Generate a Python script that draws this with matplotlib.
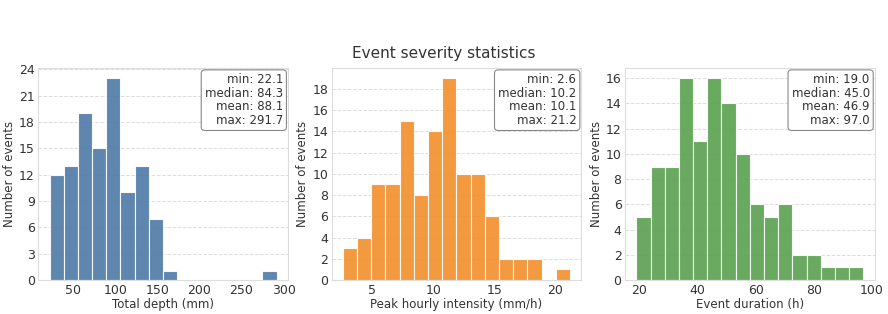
import numpy as np
import matplotlib
matplotlib.use("Agg")
import matplotlib.pyplot as plt
from matplotlib.ticker import MultipleLocator

# counts per bin (16 equal bins between min and max)
depth_counts = [12, 13, 19, 15, 23, 10, 13, 7, 1, 0, 0, 0, 0, 0, 0, 1]
intensity_counts = [3, 4, 9, 9, 15, 8, 14, 19, 10, 10, 6, 2, 2, 2, 0, 1]
duration_counts = [5, 9, 9, 16, 11, 16, 14, 10, 6, 5, 6, 2, 2, 1, 1, 1]

depth_stats = [22.1, 84.3, 88.1, 291.7]       # min, median, mean, max
intensity_stats = [2.6, 10.2, 10.1, 21.2]
duration_stats = [19.0, 45.0, 46.9, 97.0]

xlabels = ["Total depth (mm)", "Peak hourly intensity (mm/h)", "Event duration (h)"]
colors = ["#4e79a7", "#f28e2b", "#59a14f"]
ystep = [3, 2, 2]

fig, axes = plt.subplots(1, 3, figsize=(8.88, 3.14), dpi=100)
fig.subplots_adjust(left=0.043, right=0.985, top=0.783, bottom=0.108, wspace=0.175)

panels = zip(axes, [depth_counts, intensity_counts, duration_counts],
             [depth_stats, intensity_stats, duration_stats], xlabels, colors, ystep)
for ax, counts, stats, xl, col, step in panels:
    edges = np.linspace(stats[0], stats[3], len(counts) + 1)
    ax.hist(edges[:-1], bins=edges, weights=counts, color=col, alpha=0.9,
            edgecolor="white", linewidth=0.8, zorder=2)
    ax.set_xlabel(xl, fontsize=8.5, color="#333333", labelpad=1)
    ax.set_ylabel("Number of events", fontsize=8.5, color="#333333", labelpad=2)
    ax.yaxis.set_major_locator(MultipleLocator(step))
    ax.tick_params(labelsize=9, colors="#333333", length=0, pad=2.5)
    ax.grid(axis="y", linestyle="--", color="#dddddd", linewidth=0.7, zorder=0)
    ax.set_axisbelow(True)
    for s in ax.spines.values():
        s.set_color("#dddddd")
    txt = "min: %.1f\nmedian: %.1f\nmean: %.1f\nmax: %.1f" % tuple(stats)
    ax.text(0.98, 0.975, txt, transform=ax.transAxes, ha="right", va="top",
            fontsize=8.5, color="#333333", linespacing=1.05,
            bbox=dict(boxstyle="round,pad=0.3", facecolor="white", edgecolor="#888888", linewidth=0.8))

fig.suptitle("Event severity statistics", fontsize=11, color="#333333", y=0.855)
plt.savefig("out.png", dpi=100)
